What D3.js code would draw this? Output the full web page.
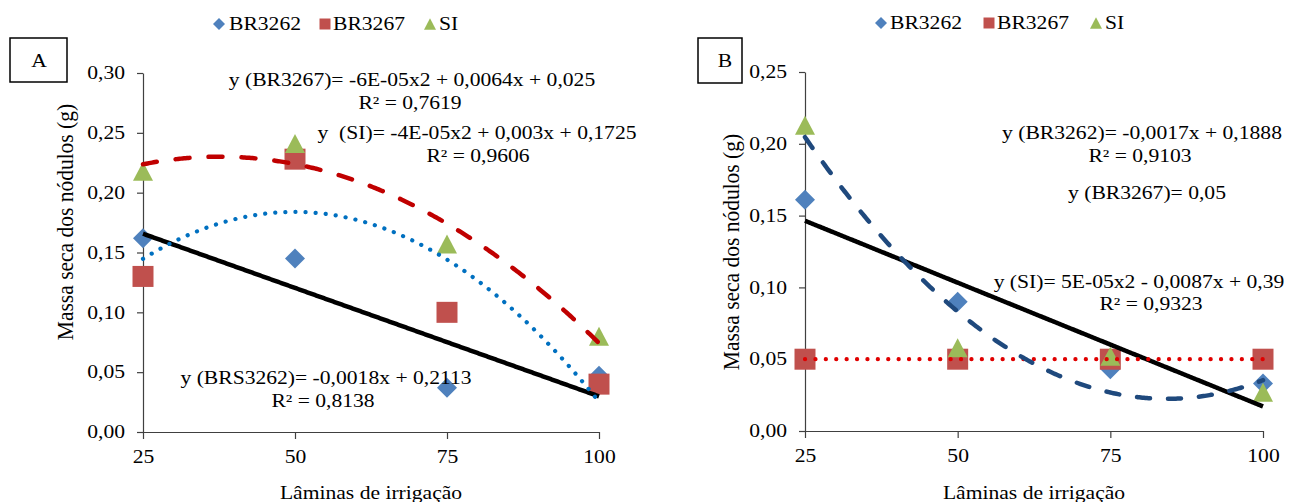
<!DOCTYPE html>
<html>
<head>
<meta charset="utf-8">
<script src="https://cdn.jsdelivr.net/npm/d3@7"></script>
<style>
body { margin: 0; background: #fff; }
svg text { font-family: "Liberation Serif", "Times New Roman", serif; fill: #000; }
</style>
</head>
<body>
<svg id="chart" width="1290" height="502"></svg>
<script>
// laminas de irrigacao (eixo x) e nomes das series
var laminas = [25, 50, 75, 100];
var seriesNames = ["BR3262", "BR3267", "SI"];

// painel A - massa seca dos nodulos (g)
var a_BR3262 = [0.162, 0.145, 0.037, 0.047];
var a_BR3267 = [0.130, 0.228, 0.100, 0.040];
var a_SI     = [0.218, 0.241, 0.157, 0.080];

// painel B
var b_BR3262 = [0.161, 0.090, 0.043, 0.033];
var b_BR3267 = [0.050, 0.050, 0.050, 0.050];
var b_SI     = [0.213, 0.058, 0.052, 0.027];

var ticksA = [0, 0.05, 0.10, 0.15, 0.20, 0.25, 0.30];
var ticksB = [0, 0.05, 0.10, 0.15, 0.20, 0.25];

var eqTextA = ["y (BR3267)= -6E-05x2 + 0,0064x + 0,025", "R² = 0,7619",
               "y  (SI)= -4E-05x2 + 0,003x + 0,1725", "R² = 0,9606",
               "y (BRS3262)= -0,0018x + 0,2113", "R² = 0,8138"];
var eqTextB = ["y (BR3262)= -0,0017x + 0,1888", "R² = 0,9103",
               "y (BR3267)= 0,05",
               "y (SI)= 5E-05x2 - 0,0087x + 0,39", "R² = 0,9323"];

var SX = 1.2; // the original picture is a bit stretched sideways
var svg = d3.select("#chart");
svg.append("rect").attr("width", 1290).attr("height", 502).attr("fill", "#fff");

// least squares polynomial (same thing excel does for the trendline)
function polyfit(xs, ys, deg) {
    var n = deg + 1, M = [], v = [];
    for (var i = 0; i < n; i++) {
        M.push([]);
        for (var j = 0; j < n; j++) M[i].push(d3.sum(xs, function (x) { return Math.pow(x, i + j); }));
        v.push(d3.sum(xs, function (x, k) { return Math.pow(x, i) * ys[k]; }));
    }
    for (var c = 0; c < n; c++) {
        for (var r = c + 1; r < n; r++) {
            var f = M[r][c] / M[c][c];
            for (var k = c; k < n; k++) M[r][k] -= f * M[c][k];
            v[r] -= f * v[c];
        }
    }
    var coef = [];
    for (var r2 = n - 1; r2 >= 0; r2--) {
        var s = v[r2];
        for (var k2 = r2 + 1; k2 < n; k2++) s -= M[r2][k2] * coef[k2];
        coef[r2] = s / M[r2][r2];
    }
    return function (x) {
        var y = 0;
        for (var i = 0; i < n; i++) y += coef[i] * Math.pow(x, i);
        return y;
    };
}

function label(g, x, y, str, anchor, size) {
    return g.append("text")
        .attr("transform", "translate(" + x + "," + y + ") scale(" + SX + ",1)")
        .attr("text-anchor", anchor || "middle")
        .attr("dy", "0.35em")
        .style("font-size", (size || 18) + "px")
        .style("white-space", "pre")
        .text(str);
}

var shapes = {
    diamond: function (s) { return "M0," + (-s) + "L" + s + ",0L0," + s + "L" + (-s) + ",0Z"; },
    square: function (s) { return "M" + (-s) + "," + (-s) + "H" + s + "V" + s + "H" + (-s) + "Z"; },
    triangle: function (s) { return "M0," + (-s * 0.95) + "L" + s + "," + (s * 0.95) + "L" + (-s) + "," + (s * 0.95) + "Z"; }
};
var markerShape = ["diamond", "square", "triangle"];
var markerSize = [10, 10.5, 10];
var markerColor = ["#4F81BD", "#C0504D", "#9BBB59"];

var trendStyles = {
    solid:    { color: "#000",    width: 4.5, dash: null },
    blueDot:  { color: "#0070C0", width: 4.2, dash: "0.1 10" },
    redDash:  { color: "#C00000", width: 4.5, dash: "14 19" },
    redDot:   { color: "#E00000", width: 4.2, dash: "0.1 10.3" },
    navyDash: { color: "#1F497D", width: 4.5, dash: "13 18" }
};

var fmt = function (d) { return d3.format(".2f")(d).replace(".", ","); };

var panels = [
    { x0: 143, x1: 599, yTop: 73, yBot: 432, ymax: 0.30, ticks: ticksA,
      series: [a_BR3262, a_BR3267, a_SI], deg: [1, 2, 2], trend: ["solid", "blueDot", "redDash"],
      tag: "A", box: [10, 38, 57, 44], tagX: 39, tagY: 61,
      legendY: 24, legend: [[219, 229], [325, 333], [430, 439]],
      ytitleX: 65, ytitleY: 222,
      eq: eqTextA, eqPos: [[412, 80], [410, 103], [477, 133], [478, 156], [326, 378], [323, 401]] },
    { x0: 805, x1: 1263, yTop: 72, yBot: 431, ymax: 0.25, ticks: ticksB,
      series: [b_BR3262, b_BR3267, b_SI], deg: [1, 0, 2], trend: ["solid", "redDot", "navyDash"],
      tag: "B", box: [698, 38, 44, 45], tagX: 725, tagY: 61,
      legendY: 23, legend: [[881, 890], [989, 997], [1096, 1105]],
      ytitleX: 731, ytitleY: 252,
      eq: eqTextB, eqPos: [[1142, 133], [1140, 156], [1147, 193], [1139, 282], [1151, 304]] }
];

panels.forEach(function (p) {
    var g = svg.append("g");
    var x = d3.scaleLinear().domain([25, 100]).range([p.x0, p.x1]);
    var y = d3.scaleLinear().domain([0, p.ymax]).range([p.yBot, p.yTop]);

    var yAxis = g.append("g")
        .attr("transform", "translate(" + p.x0 + ",0)")
        .call(d3.axisLeft(y).tickValues(p.ticks).tickFormat(fmt).tickSizeInner(6).tickSizeOuter(0).tickPadding(9));
    var xAxis = g.append("g")
        .attr("transform", "translate(0," + p.yBot + ")")
        .call(d3.axisBottom(x).tickValues(laminas).tickFormat(d3.format("d")).tickSizeInner(7).tickSizeOuter(0).tickPadding(11));
    [yAxis, xAxis].forEach(function (ax) {
        ax.attr("font-family", null).attr("font-size", null);
        ax.selectAll("path, line").attr("stroke", "#404040").attr("stroke-width", 1.2);
        ax.selectAll("text").style("font-size", "18px").attr("transform", "scale(" + SX + ",1)");
    });

    // axis titles
    label(g, (p.x0 + p.x1) / 2, 493, "Lâminas de irrigação");
    g.append("text")
        .attr("transform", "translate(" + p.ytitleX + "," + p.ytitleY + ") rotate(-90) scale(1,1.08)")
        .attr("text-anchor", "middle").attr("dy", "0.35em")
        .style("font-size", "21.5px")
        .text("Massa seca dos nódulos (g)");

    // markers
    p.series.forEach(function (vals, si) {
        g.selectAll(".m" + si).data(vals).enter().append("path")
            .attr("class", "m" + si)
            .attr("transform", function (d, i) { return "translate(" + x(laminas[i]) + "," + y(d) + ")"; })
            .attr("d", shapes[markerShape[si]](markerSize[si]))
            .attr("fill", markerColor[si]);
    });

    // trendlines on top
    var xs = d3.range(25, 100.001, 0.25);
    p.series.forEach(function (vals, si) {
        var f = polyfit(laminas, vals, p.deg[si]);
        var st = trendStyles[p.trend[si]];
        g.append("path")
            .datum(xs)
            .attr("fill", "none")
            .attr("stroke", st.color)
            .attr("stroke-width", st.width)
            .attr("stroke-linecap", st.dash ? "round" : "butt")
            .attr("stroke-dasharray", st.dash)
            .attr("d", d3.line().x(function (d) { return x(d); }).y(function (d) { return y(f(d)); }));
    });

    // legend
    seriesNames.forEach(function (name, si) {
        g.append("path")
            .attr("transform", "translate(" + p.legend[si][0] + "," + p.legendY + ")")
            .attr("d", shapes[markerShape[si]](si == 1 ? 5.5 : 6))
            .attr("fill", markerColor[si]);
        label(g, p.legend[si][1], p.legendY, name, "start");
    });

    // panel tag box
    g.append("rect")
        .attr("x", p.box[0]).attr("y", p.box[1]).attr("width", p.box[2]).attr("height", p.box[3])
        .attr("fill", "#fff").attr("stroke", "#000").attr("stroke-width", 1.5);
    label(g, p.tagX, p.tagY, p.tag);

    // equations
    p.eq.forEach(function (t, i) {
        label(g, p.eqPos[i][0], p.eqPos[i][1], t);
    });
});
</script>
</body>
</html>
